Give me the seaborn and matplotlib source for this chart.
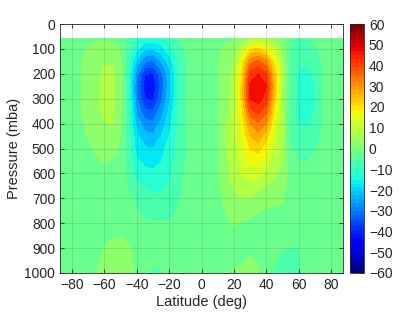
import numpy as np
import seaborn as sns
import matplotlib
matplotlib.use("Agg")
import matplotlib.pyplot as plt
from matplotlib.colors import Normalize
from matplotlib.cm import ScalarMappable

# grid of the zonal-mean wind field
lats = list(range(-90, 95, 5))
pressures = [60, 100, 150, 200, 250, 300, 350, 400, 450, 500, 600, 700, 800, 900, 1000]

# one list per latitude (top -> bottom in pressure)
wind_by_lat = {
    -90: [-2] * 15,
    -85: [-2] * 15,
    -80: [-2] * 15,
    -75: [-2, -1, -0.3, -0.3, -0.3, -0.3, -0.3, -1, -1.5, -2, -2, -2, -2, -2, -2],
    -70: [-1, 0.5, 1.5, 2, 2, 2, 1.8, 1.2, 0.3, -0.8, -2, -2, -2, -2, -2],
    -65: [-0.5, 1.5, 3, 4, 4.3, 4.3, 4, 3, 1.8, 0.5, -1.5, -2, -2, -2, -0.2],
    -60: [-0.3, 2, 4.5, 5.8, 6.2, 6.2, 5.8, 4.8, 3, 1.5, -1, -2, -2, 0.2, 1],
    -55: [-0.5, 1.5, 4.5, 6.2, 6.7, 6.7, 6.2, 5.2, 3, 1, -1.5, -2, -1.5, 0.8, 1.5],
    -50: [-2, -0.5, 0.3, 0.8, 1, 1, 0.8, 0.5, 0, -0.5, -2, -2.5, -1.2, 1, 1.5],
    -45: [-6, -8, -9, -10, -10, -10, -9.5, -9, -8.5, -8.5, -7.5, -4, -2.5, 0.3, 1],
    -40: [-10, -14, -22, -28, -30, -29, -26, -22, -18.5, -17, -11.5, -6, -3.5, -1.5, -0.5],
    -35: [-12.5, -19, -30, -39.5, -43.5, -40, -34, -28, -23, -19.5, -13.5, -8, -4.5, -3, -3.5],
    -30: [-13, -20, -30.5, -40.5, -44, -41, -35, -29, -24, -20, -14, -9, -4.5, -3.5, -5.5],
    -25: [-11.5, -17, -25, -32, -33.5, -31.5, -27.5, -23.5, -20, -17.5, -13, -9, -4.6, -3.5, -5.3],
    -20: [-9, -12.5, -18, -22, -22.5, -21, -19, -17, -15, -12.5, -11, -8, -4.8, -3, -3],
    -15: [-5.5, -8, -10.5, -11.5, -11.5, -11, -10.5, -10, -9.5, -9, -8, -6, -4, -2.5, -2],
    -10: [-3, -4.5, -5.5, -5.8, -5.5, -5.5, -5.5, -5.5, -5.5, -5.3, -4.5, -3.5, -2.5, -2, -2],
    -5: [-2] * 15,
    0: [-2] * 15,
    5: [-2, -2, -1.5, -1.5, -1.5, -1.5, -1.5, -1.5, -1.5, -1.5, -1.5, -2, -2, -2, -2],
    10: [-2, -1, -0.5, -0.3, -0.3, -0.3, -0.3, -0.3, -0.3, -0.3, -0.5, -1.5, -2, -2, -2],
    15: [-1, 1, 2.5, 3, 3, 3, 3, 4.5, 4.5, 4.5, 3.5, 1.5, -1, -1.8, -1.5],
    20: [-0.5, 3, 5, 6, 6.5, 7, 7.5, 8, 8.5, 8.5, 7, 4, 0.3, -1.5, 0.2],
    25: [2, 9, 16, 20, 22, 22, 19, 16, 14.5, 13.5, 10.5, 5, -0.5, -1, 0.5],
    30: [5, 19, 33, 42, 46, 45, 38, 30, 25, 20, 12, 5, -1, -0.5, 1.2],
    35: [6, 21, 36, 45, 48, 47, 42, 34, 28, 22, 12, 2, -1.5, -0.8, 0.3],
    40: [5, 17, 31, 41, 45.2, 43, 36, 29.5, 22, 17, 9, 1, -1.5, -1.5, -2],
    45: [3, 10, 18, 24, 25, 23, 19, 15, 12.5, 10.5, 6, 0.8, -2, -2.5, -5.5],
    50: [0, 3, 5.5, 6.5, 6, 6, 6, 6.5, 6, 5.5, 4, 0.5, -1.5, -4.7, -6.5],
    55: [-4.5, -5.5, -6.5, -7, -7, -7, -7, -6.5, -5.5, -4.5, -2.5, -2, -2, -5.2, -6.5],
    60: [-6, -8, -9.5, -10.5, -11, -11, -10.5, -10.2, -8.5, -6.5, -3.5, -2, -2, -5.2, -6],
    65: [-5.5, -7.5, -9.5, -11, -12, -12, -11.5, -10.5, -8.5, -7, -3.5, -2, -2, -2.5, -3],
    70: [-4, -6, -7.5, -9.5, -10.3, -10.3, -10, -9, -7.5, -5.5, -3, -2, -2, -2, -2],
    75: [-2.5, -3.5, -4.5, -4.8, -4.8, -4.8, -4.8, -4.5, -4, -3, -2, -2, -2, -2, -2],
    80: [-2] * 15,
    85: [-2] * 15,
    90: [-2] * 15,
}

levels = list(range(-60, 65, 5))
cbar_ticks = list(range(-60, 70, 10))
x_ticks = [-80, -60, -40, -20, 0, 20, 40, 60, 80]
y_ticks = list(range(0, 1100, 100))

sns.set_theme(style="ticks", rc={
    "xtick.direction": "in",
    "ytick.direction": "in",
    "xtick.major.size": 3,
    "ytick.major.size": 3,
    "axes.edgecolor": "#262626",
    "axes.linewidth": 0.6,
    "xtick.color": "#262626",
    "ytick.color": "#262626",
})
plt.rcParams["font.family"] = ["Liberation Sans", "DejaVu Sans"]

wind = np.array([wind_by_lat[lat] for lat in lats]).T

fig = plt.figure(figsize=(4.15, 3.12), dpi=100)
ax = fig.add_axes([60 / 415, 39 / 312, 283 / 415, 249 / 312])
cax = fig.add_axes([350 / 415, 39 / 312, 14 / 415, 249 / 312])

ax.contourf(lats, pressures, wind, levels=levels, cmap="jet", vmin=-60, vmax=60)

ax.set_xlim(-87.5, 87.5)
ax.set_ylim(1000, 0)
ax.set_xticks(x_ticks)
ax.set_yticks(y_ticks)
ax.tick_params(labelsize=10, labelcolor="#262626", top=True, right=True, width=0.6)
ax.set_axisbelow(False)
ax.grid(True, color="#262626", alpha=0.15, linewidth=0.6)
ax.set_xlabel("Latitude (deg)", fontsize=10.5, color="#262626", labelpad=2)
ax.set_ylabel("Pressure (mba)", fontsize=10.5, color="#262626", labelpad=2)

sm = ScalarMappable(norm=Normalize(-60, 60), cmap=plt.get_cmap("jet", 64))
cb = fig.colorbar(sm, cax=cax, ticks=cbar_ticks)
cb.outline.set_linewidth(0.6)
cb.outline.set_edgecolor("#262626")
cax.tick_params(labelsize=10, labelcolor="#262626", direction="in", length=3, width=0.6)

fig.savefig("out.png", dpi=100)
